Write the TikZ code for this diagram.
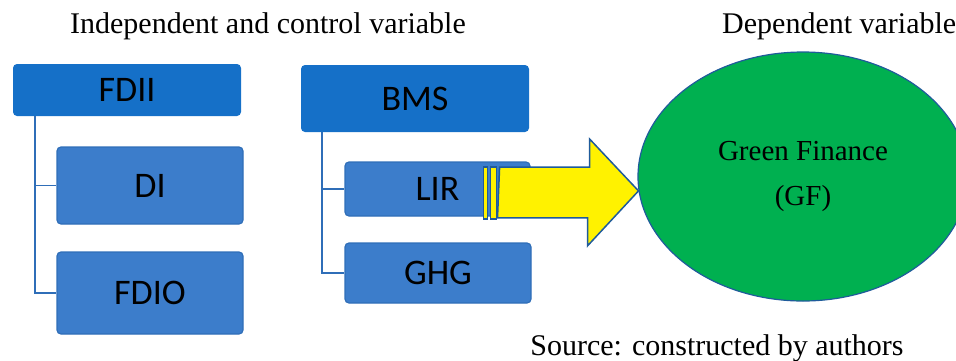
\documentclass[tikz,border=0pt]{standalone}
\usepackage{fontspec}
\setmainfont{Liberation Serif}
\newfontfamily\boxfont{Carlito}
\usepackage{tikz}
\usetikzlibrary{shapes.geometric}
\definecolor{topblue}{HTML}{1570C8}
\definecolor{subblue}{HTML}{3C7DCB}
\definecolor{lineblue}{HTML}{2F6EB8}
\definecolor{edgeblue}{HTML}{1F5B9B}
\definecolor{gfgreen}{HTML}{00B050}

\begin{document}
\begin{tikzpicture}[x=1pt,y=-1pt]
		\tikzstyle{box}=[rectangle,rounded corners=4pt,inner sep=0pt,font=\boxfont\fontsize{36}{40}\selectfont]
		\tikzstyle{top box}=[box, fill=topblue]
		\tikzstyle{sub box}=[box, fill=subblue, draw=lineblue, line width=1.2pt]
		\tikzstyle{link}=[draw=lineblue, line width=1.6pt]
		\tikzstyle{stripe}=[fill=yellow, draw=edgeblue, line width=1.5pt, line join=miter]
		\tikzstyle{annot}=[font=\fontsize{30}{34}\selectfont, inner sep=0pt]
		\useasboundingbox (0,0) rectangle (956,360);
		
		% Draw the independent variable boxes
		\node[top box, minimum width=228pt, minimum height=52pt] (fdii) at (127,90) {FDII};
		\node[sub box, minimum width=186pt, minimum height=77pt] (di) at (150,185.5) {DI};
		\node[sub box, minimum width=186pt, minimum height=82pt] (fdio) at (150,293) {FDIO};
		
		% Draw the control variable boxes
		\node[top box, minimum width=228pt, minimum height=67pt] (bms) at (415,98.5) {BMS};
		\node[sub box, minimum width=185pt, minimum height=54pt] (lir) at (437.5,189) {LIR};
		\node[sub box, minimum width=186pt, minimum height=60pt] (ghg) at (438,273) {GHG};
		
		% Draw the dependent variable
		\node[ellipse, fill=gfgreen, draw=edgeblue, line width=1.2pt, inner sep=0pt,
			minimum width=330pt, minimum height=249pt, align=center,
			font=\fontsize{29}{45}\selectfont] (gf) at (803,176.5) {Green Finance\\(GF)};
		
		% Connect the parents with their children
		\path[link] ([xshift=22pt]fdii.south west) |- (di.west);
		\path[link] ([xshift=22pt]fdii.south west) |- (fdio.west);
		\path[link] ([xshift=21pt]bms.south west) |- (lir.west);
		\path[link] ([xshift=21pt]bms.south west) |- (ghg.west);
		
		% Draw the striped arrow from LIR to GF
		\coordinate (tip) at (gf.185);
		\coordinate (tail) at ([xshift=-47pt,yshift=-4pt]lir.east);
		\draw[stripe] (tail) ++(0,-26) rectangle ++(4,52);
		\draw[stripe] (tail) ++(7,-26) rectangle ++(6,52);
		\draw[stripe] (tail) ++(16,-26) -- ++(90,0) -- ++(0,-28) -- (tip)
			-- ([xshift=-51pt,yshift=-55pt]tip) -- ++(0,-28) -- ++(-90,0) -- cycle;
		
		% Annotate the picture
		\node[annot, anchor=base] (indep) at (268,33) {Independent and control variable};
		\node[annot, anchor=base west] (dep) at (722,33) {Dependent variable};
		\node[annot, anchor=base] (src) at (717,355) {Source: constructed by authors};
\end{tikzpicture}
\end{document}
